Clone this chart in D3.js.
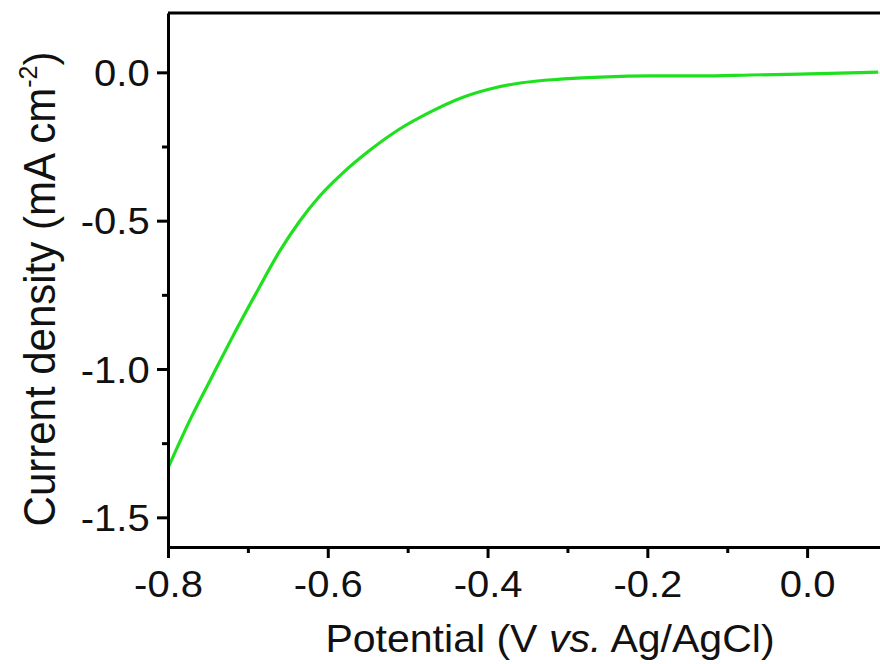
<!DOCTYPE html>
<html>
<head>
<meta charset="utf-8">
<script src="https://cdn.jsdelivr.net/npm/d3@7"></script>
<style>
  html, body { margin: 0; padding: 0; background: #fff; }
  svg { display: block; }
  text { font-family: "Liberation Sans", Arial, sans-serif; fill: #111; }
</style>
</head>
<body>
<div id="chart"></div>
<script>
// Data (potential in V vs. Ag/AgCl, current in mA cm^-2)
const potential = [-0.800, -0.773, -0.747, -0.722, -0.691, -0.660, -0.635, -0.610,
  -0.581, -0.547, -0.510, -0.472, -0.434, -0.397, -0.359, -0.309, -0.259, -0.197,
  -0.134, -0.071, -0.009, 0.054, 0.089];
const current = [-1.334, -1.175, -1.037, -0.906, -0.751, -0.602, -0.501, -0.417,
  -0.339, -0.262, -0.191, -0.134, -0.087, -0.056, -0.036, -0.023, -0.016, -0.012,
  -0.012, -0.009, -0.006, -0.002, 0.001];

// Tick values
const xTicks = [-0.8, -0.6, -0.4, -0.2, 0.0];
const xMinorTicks = [-0.7, -0.5, -0.3, -0.1];
const yTicks = [0.0, -0.5, -1.0, -1.5];
const yMinorTicks = [-0.25, -0.75, -1.25];

const width = 880, height = 664;
const margin = { left: 168, top: 13 };
const plotRight = 887, plotBottom = 547;

const fmt = (d) => d3.format(".1f")(d).replace("\u2212", "-");

const svg = d3.select("#chart").append("svg")
  .attr("width", width)
  .attr("height", height);

svg.append("rect").attr("width", width).attr("height", height).attr("fill", "#fff");

const x = d3.scaleLinear().domain([-0.8, 0.1]).range([margin.left, plotRight]);
const y = d3.scaleLinear().domain([-1.6, 0.2]).range([plotBottom, margin.top]);

// Clip for the curve
svg.append("clipPath").attr("id", "clip")
  .append("rect")
  .attr("x", margin.left).attr("y", margin.top)
  .attr("width", plotRight - margin.left).attr("height", plotBottom - margin.top);

// Curve
const line = d3.line()
  .x((d, i) => x(potential[i]))
  .y((d, i) => y(current[i]))
  .curve(d3.curveMonotoneX);

svg.append("path")
  .datum(current)
  .attr("clip-path", "url(#clip)")
  .attr("fill", "none")
  .attr("stroke", "#1fe01f")
  .attr("stroke-width", 3.2)
  .attr("stroke-linejoin", "round")
  .attr("d", line);

// Minor ticks
svg.append("g")
  .attr("transform", `translate(0,${plotBottom})`)
  .call(d3.axisBottom(x).tickValues(xMinorTicks).tickSize(6).tickFormat(""))
  .call((g) => g.select(".domain").remove())
  .call((g) => g.selectAll("line").attr("stroke", "#000").attr("stroke-width", 3));

svg.append("g")
  .attr("transform", `translate(${margin.left},0)`)
  .call(d3.axisLeft(y).tickValues(yMinorTicks).tickSize(6).tickFormat(""))
  .call((g) => g.select(".domain").remove())
  .call((g) => g.selectAll("line").attr("stroke", "#000").attr("stroke-width", 3));

// Major x axis
const xAxis = svg.append("g")
  .attr("transform", `translate(0,${plotBottom})`)
  .call(d3.axisBottom(x).tickValues(xTicks).tickSize(11).tickSizeOuter(0).tickFormat(fmt));

xAxis.select(".domain").attr("stroke", "#000").attr("stroke-width", 3);
xAxis.selectAll("line").attr("stroke", "#000").attr("stroke-width", 3);
xAxis.selectAll("text")
  .attr("y", 50)
  .attr("dy", 0)
  .attr("font-size", 37)
  .attr("transform", "scale(1.08,1)")
  .style("font-family", "'Liberation Sans', Arial, sans-serif")
  .attr("fill", "#111");

// Major y axis
const yAxis = svg.append("g")
  .attr("transform", `translate(${margin.left},0)`)
  .call(d3.axisLeft(y).tickValues(yTicks).tickSize(11).tickSizeOuter(0).tickFormat(fmt));

yAxis.select(".domain").attr("stroke", "#000").attr("stroke-width", 3);
yAxis.selectAll("line").attr("stroke", "#000").attr("stroke-width", 3);
yAxis.selectAll("text")
  .attr("x", -17)
  .attr("dy", "0.36em")
  .attr("font-size", 37)
  .attr("transform", "scale(1.08,1)")
  .style("font-family", "'Liberation Sans', Arial, sans-serif")
  .attr("fill", "#111");

// Frame: top and right edges
svg.append("line")
  .attr("x1", margin.left).attr("x2", plotRight)
  .attr("y1", margin.top).attr("y2", margin.top)
  .attr("stroke", "#000").attr("stroke-width", 3);
svg.append("line")
  .attr("x1", plotRight).attr("x2", plotRight)
  .attr("y1", margin.top).attr("y2", plotBottom)
  .attr("stroke", "#000").attr("stroke-width", 3);

// X axis title
const xTitle = svg.append("text")
  .attr("text-anchor", "middle")
  .attr("font-size", 38)
  .attr("transform", "translate(550,652) scale(1.08,1)");
xTitle.append("tspan").text("Potential (V ");
xTitle.append("tspan").attr("font-style", "italic").text("vs.");
xTitle.append("tspan").text(" Ag/AgCl)");

// Y axis title
const yTitle = svg.append("text")
  .attr("text-anchor", "middle")
  .attr("font-size", 42)
  .attr("transform", "translate(55,289) rotate(-90) scale(1,1.04)");
yTitle.append("tspan").text("Current density (mA cm");
yTitle.append("tspan").attr("font-size", 25).attr("dy", -17).text("-2");
yTitle.append("tspan").attr("dy", 17).text(")");
</script>
</body>
</html>
